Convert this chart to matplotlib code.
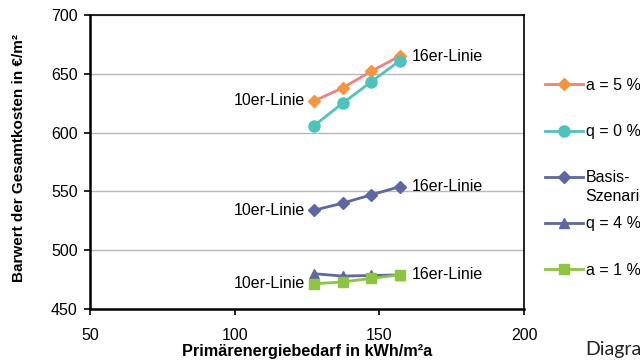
import matplotlib
matplotlib.use("Agg")
import matplotlib.pyplot as plt

plt.rcParams['font.family'] = ['Liberation Sans', 'DejaVu Sans']

# Primärenergiebedarf der vier Varianten (10er- bis 16er-Linie)
bedarf = [127.5, 137.3, 147.1, 157.0]

# Barwert der Gesamtkosten je Szenario
a5 = [627, 638, 652, 665]
q0 = [606, 625, 643, 661]
basis = [534, 540, 547, 554]
q4 = [480, 478, 478.5, 479]
a1 = [471.5, 473, 476, 479]

labels = ['a = 5 %', 'q = 0 %', 'Basis-', 'q = 4 %', 'a = 1 %']
basis_zeile2 = 'Szenario'

fig = plt.figure(figsize=(6.4, 3.63), dpi=100)
ax = fig.add_axes([90/640, 1-309/363, 434/640, 294/363])

h1, = ax.plot(bedarf, a5, color='#F2817A', lw=2, marker='D', ms=6,
              mfc='#F7953F', mec='#F7953F')
h2, = ax.plot(bedarf, q0, color='#4EC3BD', lw=2, marker='o', ms=8,
              mfc='#4EC3BD', mec='#4EC3BD')
h3, = ax.plot(bedarf, basis, color='#5E66A3', lw=2, marker='D', ms=6,
              mfc='#5E66A3', mec='#5E66A3')
h4, = ax.plot(bedarf, q4, color='#5E66A3', lw=2, marker='^', ms=7,
              mfc='#5E66A3', mec='#5E66A3')
h5, = ax.plot(bedarf, a1, color='#8CC63F', lw=2, marker='s', ms=7,
              mfc='#8CC63F', mec='#8CC63F')

# Beschriftung der Endpunkte
for y0, y1 in [(a5[0], a5[-1]), (basis[0], basis[-1]), (a1[0], q4[-1])]:
    ax.annotate('10er-Linie', (bedarf[0], y0), xytext=(-7, 0),
                textcoords='offset points', ha='right', va='center', fontsize=11.5)
    ax.annotate('16er-Linie', (bedarf[-1], y1), xytext=(9, 0),
                textcoords='offset points', ha='left', va='center', fontsize=11.5)

ax.set_xlim(50, 200)
ax.set_ylim(450, 700)
ax.set_xticks([50, 100, 150, 200])
ax.set_yticks([450, 500, 550, 600, 650, 700])
ax.tick_params(axis='both', labelsize=11.5, length=4, width=1.2, direction='out')
ax.tick_params(axis='x', pad=9.5)
ax.tick_params(axis='y', pad=5)
ax.yaxis.grid(True, color='#B8B8B8', lw=1)
ax.set_axisbelow(True)
for s in ['left', 'bottom']:
    ax.spines[s].set_linewidth(1.8)
for s in ['top', 'right']:
    ax.spines[s].set_linewidth(1.2)

ax.set_xlabel('Primärenergiebedarf in kWh/m²a', fontsize=11.7, fontweight='bold', labelpad=1)
ax.set_ylabel('Barwert der Gesamtkosten in €/m²', fontsize=11, fontweight='bold')
ax.yaxis.set_label_coords(-0.147, 0.514)

leg = fig.legend([h1, h2, h3, h4, h5], labels, loc='upper left',
                 bbox_to_anchor=(545/640, 1-78/363), frameon=False, fontsize=11.5,
                 handlelength=2.4, handletextpad=0.15, labelspacing=1.95,
                 borderaxespad=0, borderpad=0)

# zweite Zeile des Basis-Eintrags direkt unter "Basis-"
fig.canvas.draw()
bb = leg.get_texts()[2].get_window_extent()
fig.text(bb.x0, bb.y0 - 19, basis_zeile2, transform=None,
         fontsize=11.5, ha='left', va='bottom')

fig.text(585/640, 1-350/363, 'Diagramm', fontsize=14, family='Lato',
         va='center', ha='left', color='#222222')

fig.savefig('out.png', dpi=100)
